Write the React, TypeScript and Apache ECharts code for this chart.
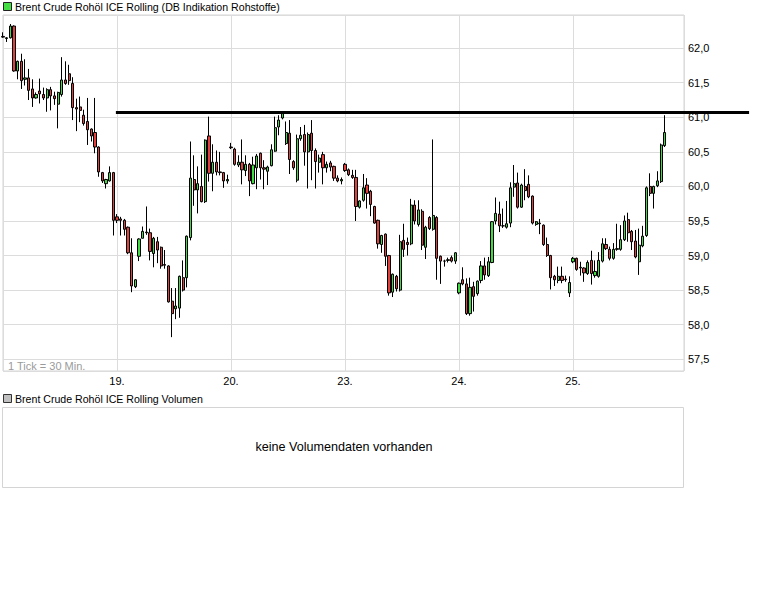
import { useEffect, useRef } from 'react'
import * as echarts from 'echarts'

// Brent Crude Rohöl ICE Rolling · 30-Minuten-Kerzen, 18.–25.

const FONT = '"Liberation Sans", Arial, sans-serif'
const UP_COLOR = '#3edc3e'
const DOWN_COLOR = '#e3403c'
const GRID_COLOR = '#dcdcdc'
const FRAME_COLOR = '#d4d4d4'

// ---------- Daten ----------
const CANDLES_PER_DAY = 31
const dayLabels = ['18.', '19.', '20.', '23.', '24.', '25.']

const openPrices = [
  62.17, 62.14, 62.15, 62.32, 61.67, 61.81, 61.55, 61.57, 61.41, 61.28, 61.38, 61.33, 61.28, 61.4, 61.31, 61.19,
  61.33, 61.54, 61.63, 61.49, 61.14, 61.15, 61.03, 60.94, 60.83, 60.78, 60.57, 60.2, 60.04, 60.08, 60.2,
  59.56, 59.53, 59.51, 59.41, 59.04, 58.55, 58.99, 59.25, 59.34, 59.33, 59.03, 59.2, 59.12, 58.87, 58.85, 58.34,
  58.23, 58.24, 58.68, 58.68, 59.26, 60.1, 59.95, 60.0, 59.78, 60.73, 60.19, 60.35, 60.21, 60.2, 60.08,
  60.57, 60.54, 60.31, 60.35, 60.23, 60.32, 60.04, 60.27, 60.48, 60.27, 60.22, 60.3, 60.51, 60.86, 60.99, 60.62,
  60.77, 60.36, 60.09, 60.69, 60.75, 60.5, 60.77, 60.52, 60.35, 60.46, 60.27, 60.34, 60.29, 60.12, 60.08,
  60.32, 60.24, 60.16, 60.13, 59.7, 59.8, 60.02, 59.93, 59.71, 59.51, 59.16, 59.31, 59.0, 58.47, 58.7, 58.5,
  59.22, 59.19, 59.17, 59.73, 59.45, 59.64, 59.12, 59.55, 59.38, 59.55, 58.99, 58.92, 58.93, 58.97, 58.92,
  58.46, 58.65, 58.59, 58.16, 58.55, 58.45, 58.64, 58.85, 58.71, 58.9, 59.5, 59.6, 59.43, 59.41, 59.47, 59.99,
  60.05, 59.7, 60.0, 60.03, 59.86, 59.45, 59.47, 59.44, 59.16, 59.0, 58.7, 58.64, 58.7, 58.66, 58.46,
  58.91, 58.96, 58.82, 58.82, 58.74, 58.93, 58.71, 58.7, 58.92, 59.16, 59.09, 58.96, 59.09, 59.09, 59.23, 59.52,
  59.35, 59.21, 58.91, 59.14, 59.29, 60.0, 59.9, 60.01, 60.07, 60.59,
]

const closePrices = [
  62.16, 62.15, 62.32, 61.67, 61.81, 61.53, 61.57, 61.39, 61.28, 61.33, 61.34, 61.28, 61.4, 61.31, 61.27, 61.36,
  61.54, 61.49, 61.53, 61.14, 61.12, 61.1, 60.91, 60.82, 60.73, 60.57, 60.21, 60.08, 60.1, 60.2, 59.51,
  59.51, 59.51, 59.38, 59.04, 58.56, 58.65, 59.24, 59.35, 59.33, 59.06, 59.25, 59.08, 58.85, 58.86, 58.33, 58.16,
  58.27, 58.7, 58.5, 59.28, 60.12, 59.95, 60.04, 59.78, 60.67, 60.19, 60.35, 60.21, 60.2, 60.08, 60.1,
  60.56, 60.32, 60.35, 60.24, 60.32, 60.08, 60.31, 60.44, 60.27, 60.25, 60.28, 60.53, 60.85, 60.96, 61.06, 60.78,
  60.39, 60.27, 60.69, 60.74, 60.5, 60.75, 60.52, 60.36, 60.41, 60.27, 60.32, 60.28, 60.12, 60.08, 60.1,
  60.23, 60.17, 60.13, 59.71, 59.79, 59.98, 59.9, 59.74, 59.47, 59.17, 59.29, 58.99, 58.46, 58.73, 58.52, 59.2,
  59.09, 59.16, 59.73, 59.5, 59.66, 59.15, 59.41, 59.39, 59.58, 58.96, 58.92, 58.92, 58.94, 58.92, 59.04,
  58.6, 58.59, 58.16, 58.54, 58.41, 58.63, 58.85, 58.72, 58.91, 59.49, 59.61, 59.43, 59.43, 59.46, 59.98, 60.04,
  59.7, 60.02, 59.94, 59.85, 59.47, 59.49, 59.46, 59.16, 59.0, 58.68, 58.65, 58.7, 58.64, 58.65, 58.61,
  58.96, 58.8, 58.83, 58.75, 58.9, 58.74, 58.77, 58.93, 59.17, 59.1, 58.96, 59.09, 59.1, 59.23, 59.5, 59.33,
  59.2, 58.98, 59.15, 59.28, 59.98, 59.9, 60.0, 60.08, 60.6, 60.78,
]

const lowPrices = [
  62.15, 62.09, 62.14, 61.66, 61.55, 61.41, 61.46, 61.25, 61.15, 61.27, 61.2, 61.25, 61.08, 61.1, 61.18, 60.84,
  61.3, 61.47, 61.47, 60.96, 60.8, 60.93, 60.88, 60.6, 60.65, 60.48, 60.14, 60.05, 59.97, 60.07, 59.29,
  59.47, 59.29, 59.29, 59.02, 58.47, 58.53, 58.92, 59.25, 59.3, 58.93, 58.83, 58.89, 58.81, 58.81, 58.32, 57.82,
  58.08, 58.1, 58.48, 58.54, 59.22, 59.72, 59.61, 59.77, 59.76, 60.07, 59.93, 60.16, 60.16, 59.98, 60.04,
  60.54, 60.3, 60.28, 60.03, 60.15, 59.86, 60.03, 59.96, 60.1, 59.96, 60.02, 60.29, 60.5, 60.74, 60.97, 60.6,
  60.18, 60.24, 60.06, 60.66, 60.3, 59.97, 60.09, 59.97, 60.2, 60.03, 60.2, 60.22, 60.08, 60.06, 60.03,
  60.21, 60.15, 60.11, 59.5, 59.68, 59.78, 59.68, 59.57, 59.46, 59.1, 59.04, 58.85, 58.42, 58.4, 58.48, 58.48,
  58.98, 59.0, 59.15, 59.45, 59.42, 59.08, 58.95, 59.37, 59.36, 58.65, 58.59, 58.84, 58.9, 58.9, 58.88,
  58.44, 58.57, 58.14, 58.13, 58.19, 58.42, 58.6, 58.65, 58.69, 58.89, 59.45, 59.34, 59.4, 59.39, 59.41, 59.85,
  59.68, 59.69, 59.8, 59.83, 59.45, 59.43, 59.31, 59.14, 58.98, 58.51, 58.56, 58.6, 58.6, 58.62, 58.4,
  58.89, 58.78, 58.71, 58.62, 58.72, 58.58, 58.68, 58.68, 58.9, 59.08, 58.93, 58.94, 59.07, 59.07, 59.21, 59.2,
  59.08, 58.96, 58.72, 59.12, 59.27, 59.86, 59.68, 59.99, 60.05, 60.57,
]

const highPrices = [
  62.23, 62.16, 62.35, 62.33, 61.82, 61.92, 61.84, 61.7, 61.55, 61.36, 61.56, 61.43, 61.42, 61.44, 61.37, 61.37,
  61.87, 61.81, 61.76, 61.58, 61.27, 61.3, 61.11, 61.28, 60.84, 61.28, 60.58, 60.21, 60.11, 60.29, 60.21,
  59.6, 59.56, 59.53, 59.42, 59.25, 58.66, 59.25, 59.42, 59.71, 59.39, 59.27, 59.27, 59.13, 59.08, 58.86, 58.53,
  58.53, 58.71, 58.93, 59.29, 60.65, 60.45, 60.29, 60.46, 60.68, 61.01, 60.61, 60.52, 60.5, 60.21, 60.17,
  60.63, 60.56, 60.45, 60.68, 60.45, 60.34, 60.43, 60.47, 60.49, 60.38, 60.3, 60.61, 61.01, 61.03, 61.08, 60.94,
  60.96, 60.38, 60.75, 60.86, 60.89, 60.78, 60.96, 60.55, 60.46, 60.5, 60.36, 60.37, 60.3, 60.16, 60.13,
  60.34, 60.26, 60.24, 60.24, 59.8, 60.18, 60.12, 59.95, 59.72, 59.52, 59.3, 59.32, 59.01, 58.74, 58.72, 59.3,
  59.46, 59.26, 59.82, 59.8, 59.8, 59.67, 59.43, 59.57, 60.68, 59.57, 59.0, 58.94, 58.97, 59.0, 59.05,
  58.61, 58.83, 58.67, 58.68, 58.62, 58.64, 58.92, 58.97, 58.98, 59.5, 59.84, 59.78, 59.68, 59.79, 60.06, 60.31,
  60.2, 60.04, 60.25, 60.16, 59.87, 59.5, 59.53, 59.45, 59.26, 59.01, 58.72, 58.84, 58.84, 58.71, 58.7,
  58.98, 58.97, 58.91, 58.83, 58.93, 59.07, 58.93, 59.05, 59.25, 59.25, 59.13, 59.18, 59.46, 59.44, 59.58, 59.62,
  59.37, 59.37, 59.39, 59.43, 60.0, 60.19, 60.01, 60.22, 60.62, 61.03,
]

// Widerstandslinie (Index von / bis, Kurs)
const resistanceFrom = 30.7
const resistanceTo = 202.9
const resistanceLevel = 61.07

const X_MAX = 185.2
const Y_MIN = 57.33
const Y_MAX = 62.48

export default function App() {
  const containerRef = useRef<HTMLDivElement>(null)

  useEffect(() => {
    document.body.style.margin = '0'
    if (!containerRef.current) return
    const chart = echarts.init(containerRef.current, undefined, { renderer: 'svg' })

    const candles = openPrices.map((o, i) => [i, o, closePrices[i], lowPrices[i], highPrices[i]])

    const option: echarts.EChartsOption = {
      animation: false,
      backgroundColor: '#fff',
      textStyle: { fontFamily: FONT },
      grid: {
        left: 3,
        right: 84,
        top: 15,
        bottom: 243,
        show: true,
        borderColor: FRAME_COLOR,
        borderWidth: 1,
        backgroundColor: 'transparent',
      },
      xAxis: {
        type: 'value',
        min: 0,
        max: X_MAX,
        interval: CANDLES_PER_DAY,
        axisLine: { show: false },
        axisTick: { show: false },
        splitLine: { show: true, lineStyle: { color: GRID_COLOR, width: 1 } },
        axisLabel: {
          color: '#000',
          fontSize: 11,
          fontFamily: FONT,
          margin: 4,
          showMinLabel: false,
          showMaxLabel: false,
          formatter: (v: number) => {
            const k = Math.round(v / CANDLES_PER_DAY)
            return k > 0 && k < dayLabels.length ? dayLabels[k] : ''
          },
        },
      },
      yAxis: {
        type: 'value',
        position: 'right',
        min: Y_MIN,
        max: Y_MAX,
        splitNumber: 10,
        minInterval: 0.5,
        maxInterval: 0.5,
        scale: true,
        axisLine: { show: false },
        axisTick: { show: false },
        splitLine: { show: true, lineStyle: { color: GRID_COLOR, width: 1 } },
        axisLabel: {
          color: '#000',
          fontSize: 11,
          fontFamily: FONT,
          margin: 4,
          showMinLabel: false,
          showMaxLabel: false,
          formatter: (v: number) => v.toFixed(1).replace('.', ','),
        },
      },
      series: [
        {
          type: 'candlestick',
          data: candles,
          encode: { x: 0, y: [1, 2, 3, 4] },
          barWidth: 2.7,
          clip: false,
          itemStyle: {
            color: UP_COLOR,
            color0: DOWN_COLOR,
            borderColor: '#000',
            borderColor0: '#000',
            borderWidth: 1,
          },
        },
      ],
      graphic: [
        {
          type: 'rect',
          shape: { x: 3.5, y: 2.5, width: 8, height: 8 },
          style: { fill: '#44dd44', stroke: '#222', lineWidth: 1 },
        },
        {
          type: 'text',
          x: 15,
          y: 7,
          style: {
            text: 'Brent Crude Rohöl ICE Rolling (DB Indikation Rohstoffe)',
            font: `10.6px ${FONT}`,
            fill: '#000',
            verticalAlign: 'middle',
          },
        },
        {
          type: 'text',
          x: 8,
          y: 365.5,
          style: {
            text: '1 Tick = 30 Min.',
            font: `11px ${FONT}`,
            fill: '#9a9a9a',
            verticalAlign: 'middle',
          },
        },
        {
          type: 'rect',
          shape: { x: 3.5, y: 394.5, width: 8, height: 8 },
          style: { fill: '#c0c0c0', stroke: '#333', lineWidth: 1 },
        },
        {
          type: 'text',
          x: 15,
          y: 398.5,
          style: {
            text: 'Brent Crude Rohöl ICE Rolling Volumen',
            font: `10.6px ${FONT}`,
            fill: '#000',
            verticalAlign: 'middle',
          },
        },
        {
          type: 'rect',
          shape: { x: 2.5, y: 407.5, width: 681, height: 80 },
          style: { fill: 'none', stroke: FRAME_COLOR, lineWidth: 1 },
        },
        {
          type: 'text',
          x: 344,
          y: 447,
          style: {
            text: 'keine Volumendaten vorhanden',
            font: `12.6px ${FONT}`,
            fill: '#000',
            align: 'center',
            verticalAlign: 'middle',
          },
        },
      ],
    }

    chart.setOption(option)

    // Widerstandslinie über die Achsen in Pixel umrechnen (reicht über den Plotrand hinaus)
    const p0 = chart.convertToPixel({ gridIndex: 0 }, [resistanceFrom, resistanceLevel]) as number[]
    const p1 = chart.convertToPixel({ gridIndex: 0 }, [resistanceTo, resistanceLevel]) as number[]
    chart.setOption({
      graphic: [
        {
          id: 'resistance',
          type: 'line',
          z: 10,
          shape: { x1: p0[0], y1: p0[1], x2: p1[0], y2: p1[1] },
          style: { stroke: '#000', lineWidth: 3 },
        },
      ],
    })

    return () => chart.dispose()
  }, [])

  return <div ref={containerRef} style={{ width: 768, height: 614 }} />
}
